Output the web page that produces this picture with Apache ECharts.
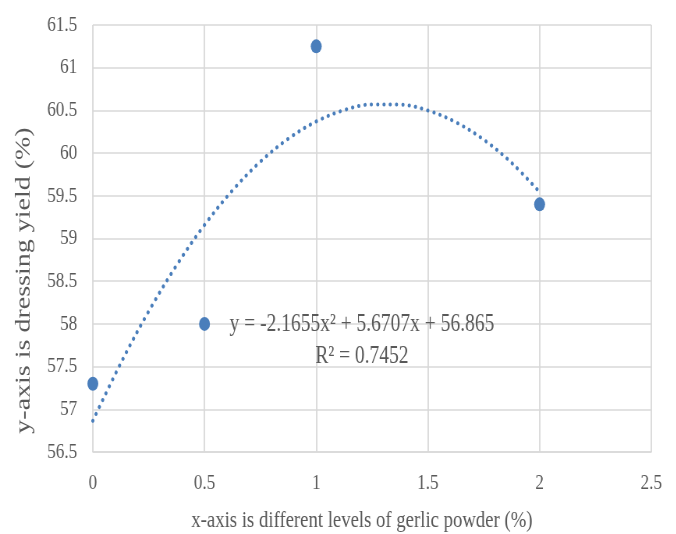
<!DOCTYPE html>
<html>
<head>
<meta charset="utf-8">
<script src="https://cdn.jsdelivr.net/npm/echarts@6/dist/echarts.min.js"></script>
<style>
html,body{margin:0;padding:0;background:#fff;overflow:hidden;width:676px;height:534px}
#c{width:867px;height:534px;transform:scaleX(0.78);transform-origin:0 0}
</style>
</head>
<body>
<div id="c"></div>
<script>
var obsX = [0, 0.5, 1, 2];
var obsY = [57.3, 58.0, 61.25, 59.4];
var trendX = [0, 0.125, 0.25, 0.375, 0.5, 0.625, 0.75, 0.875, 1, 1.125, 1.25, 1.375, 1.5, 1.625, 1.75, 1.875, 2];
var trendY = [56.865, 57.540, 58.147, 58.687, 59.159, 59.563, 59.900, 60.169, 60.370, 60.504, 60.570, 60.568, 60.499, 60.362, 60.157, 59.885, 59.544];
var xTitle = 'x-axis is different levels of gerlic powder (%)';
var yTitle = 'y-axis is dressing yield (%)';
var eqText = 'y = -2.1655x² + 5.6707x + 56.865';
var r2Text = 'R² = 0.7452';

var font = '"Liberation Serif", "Times New Roman", serif';
var txt = '#595959';
var blue = '#4a7ebb';
var chart = echarts.init(document.getElementById('c'));
chart.setOption({
  animation: false,
  backgroundColor: '#fff',
  grid: {left: 119, right: 32, top: 25, bottom: 82, outerBoundsMode: 'none', containLabel: false},
  xAxis: {
    type: 'value', min: 0, max: 2.5, interval: 0.5,
    name: xTitle, nameLocation: 'middle', nameGap: 57,
    nameTextStyle: {fontFamily: font, fontSize: 24, color: txt, padding: [0, 26, 0, 0]},
    axisLine: {show: true, lineStyle: {color: '#d9d9d9', width: 1.5}},
    axisTick: {show: false},
    axisLabel: {fontFamily: font, fontSize: 22, color: txt, margin: 20},
    splitLine: {show: true, lineStyle: {color: '#d9d9d9', width: 1.8}}
  },
  yAxis: {
    type: 'value', min: 56.5, max: 61.5, interval: 0.5,
    name: yTitle, nameLocation: 'middle', nameGap: 74,
    nameTextStyle: {fontFamily: font, fontSize: 28, color: txt, padding: [0, 84, 0, 0]},
    axisLine: {show: false},
    axisTick: {show: false},
    axisLabel: {fontFamily: font, fontSize: 22, color: txt, margin: 20},
    splitLine: {show: true, lineStyle: {color: '#d9d9d9', width: 1.5}}
  },
  series: [
    {
      type: 'line', smooth: 0.35, showSymbol: false, symbol: 'none',
      data: trendX.map(function (x, i) { return [x, trendY[i]]; }),
      lineStyle: {color: blue, width: 4, type: [0.1, 8], cap: 'round'},
      z: 2
    },
    {
      type: 'scatter', symbol: 'circle', symbolSize: 14,
      data: obsX.map(function (x, i) { return [x, obsY[i]]; }),
      itemStyle: {color: blue, opacity: 1},
      z: 3
    }
  ],
  graphic: [
    {type: 'text', x: 464, y: 324, z: 10,
     style: {text: eqText, font: '25px ' + font, fill: txt, align: 'center', verticalAlign: 'middle'}},
    {type: 'text', x: 464, y: 356, z: 10,
     style: {text: r2Text, font: '25px ' + font, fill: txt, align: 'center', verticalAlign: 'middle'}}
  ]
});
</script>
</body>
</html>
